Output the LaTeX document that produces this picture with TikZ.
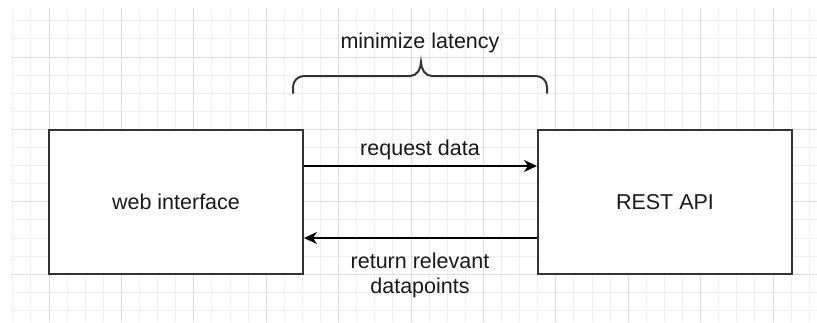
\documentclass[tikz,border=0pt]{standalone}
\usepackage{fontspec}
\setmainfont{Liberation Sans}
\usetikzlibrary{arrows.meta}
\definecolor{gridminor}{HTML}{EFEFEF}
\definecolor{gridmajor}{HTML}{DCDCDC}
\definecolor{boxline}{HTML}{333333}
\tikzset{
  block/.style={draw=boxline, line width=2pt, fill=white, minimum width=254pt, minimum height=144pt, inner sep=0pt},
  txt/.style={font=\fontsize{21.5}{25}\selectfont, text=black!90, inner sep=0pt},
  flow/.style={line width=2pt, black, -{Stealth[length=13pt,width=12pt,inset=4pt]}},
  bracepath/.style={line width=2pt, boxline, line cap=round}
}
\begin{document}
\begin{tikzpicture}[x=1pt,y=-1pt]
\useasboundingbox (0,0) rectangle (817,322);
\fill[white] (0,0) rectangle (817,322);
\begin{scope}
\clip (12,8) rectangle (817,322);
\foreach \i in {-2,...,42} \draw[gridminor, line width=1pt] ({49+\i*18.1},8) -- ({49+\i*18.1},322);
\foreach \j in {-2,...,14} \draw[gridminor, line width=1pt] (12,{57+\j*18.1}) -- (817,{57+\j*18.1});
\foreach \i in {0,...,10} \draw[gridmajor, line width=1pt] ({49+\i*72.4},8) -- ({49+\i*72.4},322);
\foreach \j in {0,...,3} \draw[gridmajor, line width=1pt] (12,{57+\j*72.4}) -- (817,{57+\j*72.4});
\end{scope}

\node[block] (web) at (176,202) {};
\node[block] (api) at (665,202) {};
\node[txt, anchor=base] (webt) at (176,209) {web interface};
\node[txt, anchor=base] (apit) at (665,209) {REST API};

\coordinate (r1) at ([yshift=36pt]web.east);
\coordinate (r2) at ([yshift=36pt]api.west);
\coordinate (b1) at ([yshift=-36pt]api.west);
\coordinate (b2) at ([yshift=-36pt]web.east);
\draw[flow] (r1) -- (r2);
\draw[flow] (b1) -- (b2);

\node[txt, anchor=base] (req) at (420,155) {request data};
\node[txt, anchor=base] (ret1) at (420,268) {return relevant};
\node[txt, anchor=base] (ret2) at (420,293) {datapoints};

\coordinate (brl) at (293,93);
\coordinate (brr) at (547,93);
\coordinate (brm) at (421,62);
\draw[bracepath] (brl) -- (293,87) to[out=90,in=180] (304,76) -- (410,76) to[out=0,in=-90] (brm)
  to[out=-90,in=180] (432,76) -- (536,76) to[out=0,in=90] (547,87) -- (brr);
\node[txt, anchor=base] (lat) at (420,48) {minimize latency};
\end{tikzpicture}
\end{document}
